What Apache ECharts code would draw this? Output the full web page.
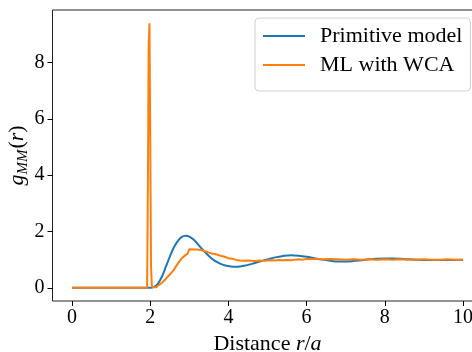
<!DOCTYPE html>
<html><head><meta charset="utf-8">
<script src="https://cdn.jsdelivr.net/npm/echarts@6/dist/echarts.min.js"></script>
<style>html,body{margin:0;padding:0;background:#fff}#c{width:472px;height:352px}</style>
</head><body><div id="c"></div>
<script>
// Primitive model
const rPrim = [0, 1.9, 2.0, 2.1, 2.2, 2.3, 2.4, 2.5, 2.6, 2.7, 2.8, 2.9, 3.0, 3.1, 3.2, 3.3, 3.4, 3.5, 3.6, 3.7, 3.8, 3.9, 4.0, 4.1, 4.2, 4.3, 4.4,
  4.6, 4.8, 5.0, 5.2, 5.4, 5.6, 5.8, 6.0, 6.2, 6.4, 6.6, 6.8, 7.0, 7.2, 7.4, 7.6, 7.8, 8.0, 8.2, 8.4, 8.6, 8.8, 9.0, 9.5, 10.0];
const gPrim = [0, 0, 0.0, 0.03, 0.15, 0.4, 0.75, 1.1, 1.42, 1.65, 1.8, 1.85, 1.82, 1.72, 1.58, 1.42, 1.27, 1.13, 1.01, 0.92, 0.85, 0.8, 0.77, 0.75, 0.75, 0.76, 0.78,
  0.85, 0.93, 1.01, 1.08, 1.13, 1.16, 1.14, 1.10, 1.05, 1.00, 0.96, 0.93, 0.93, 0.95, 0.98, 1.01, 1.03, 1.04, 1.04, 1.03, 1.01, 1.00, 0.99, 0.99, 1.0];
// ML with WCA
const rML = [0, 1.92, 1.94, 1.96, 1.98, 2.00, 2.02, 2.04, 2.06, 2.10, 2.15, 2.20, 2.30, 2.40, 2.50, 2.60, 2.70, 2.80, 2.90, 2.96, 3.00, 3.05,
  3.10, 3.20, 3.30, 3.40, 3.50, 3.60, 3.70, 3.80, 3.90,
  4.00, 4.10, 4.20, 4.30, 4.40, 4.50, 4.60, 4.70, 4.80, 4.90, 5.00, 5.10, 5.20, 5.30, 5.40, 5.50, 5.60, 5.70, 5.80, 5.90, 6.00,
  6.20, 6.40, 6.60, 6.80, 7.00, 7.20, 7.40, 7.60, 7.80, 8.00, 8.20, 8.40, 8.60, 8.80, 9.00, 9.20, 9.40, 9.60, 9.80, 10.0];
const gML = [0, 0, 3.5, 8.6, 9.4, 5.5, 0.8, 0.1, 0.02, 0.0, 0.02, 0.06, 0.18, 0.32, 0.47, 0.63, 0.85, 1.04, 1.16, 1.22, 1.37, 1.38,
  1.36, 1.36, 1.34, 1.30, 1.25, 1.21, 1.18, 1.14, 1.10,
  1.05, 1.03, 0.99, 0.97, 0.96, 0.97, 0.96, 0.95, 0.97, 0.96, 0.97, 0.98, 0.97, 0.99, 0.98, 0.99, 0.98, 1.00, 1.01, 1.00, 1.02,
  1.02, 1.01, 1.02, 1.01, 1.00, 1.01, 1.00, 1.01, 1.00, 1.01, 1.00, 1.01, 1.00, 1.00, 1.01, 1.00, 1.00, 1.01, 1.00, 1.00];
const xTicks = [0, 2, 4, 6, 8, 10];
const yTicks = [0, 2, 4, 6, 8];
const seriesNames = ['Primitive model', 'ML with WCA'];

const FONT = '"Liberation Serif", "DejaVu Serif", serif';
const pairs = (xs, ys) => xs.map((x, i) => [x, ys[i]]);
const chart = echarts.init(document.getElementById('c'), null, {renderer: 'canvas'});
chart.setOption({
  animation: false,
  backgroundColor: '#fff',
  grid: {left: 52.5, top: 10, width: 430, height: 291, show: true, borderColor: '#222', borderWidth: 1, backgroundColor: 'transparent', containLabel: false, outerBoundsMode: 'none'},
  xAxis: {
    type: 'value', min: -0.5, max: 10.5,
    name: 'Distance {i|r}/{i|a}', nameLocation: 'middle', nameGap: 27,
    nameTextStyle: {fontFamily: FONT, fontSize: 22, color: '#000', rich: {i: {fontFamily: FONT, fontSize: 22, fontStyle: 'italic', color: '#000'}}},
    axisLine: {show: false, onZero: false},
    axisTick: {show: true, length: 5, lineStyle: {color: '#000', width: 1}, customValues: xTicks},
    axisLabel: {fontFamily: FONT, fontSize: 20, color: '#000', margin: 7, customValues: xTicks},
    splitLine: {show: false}
  },
  yAxis: {
    type: 'value', min: -0.47, max: 9.87,
    name: '{i|g}{s|MM}{n|(}{i|r}{n|)}', nameLocation: 'middle', nameGap: 22, nameRotate: 90, nameMoveOverlap: false,
    nameTextStyle: {fontFamily: FONT, fontSize: 22, color: '#000', rich: {
      i: {fontFamily: FONT, fontSize: 22, fontStyle: 'italic', color: '#000', lineHeight: 26},
      n: {fontFamily: FONT, fontSize: 22, color: '#000', lineHeight: 26},
      s: {fontFamily: FONT, fontSize: 15, fontStyle: 'italic', color: '#000', lineHeight: 26, padding: [12, 1, 0, 0]}
    }},
    axisLine: {show: false, onZero: false},
    axisTick: {show: true, length: 5, lineStyle: {color: '#000', width: 1}, customValues: yTicks},
    axisLabel: {fontFamily: FONT, fontSize: 20, color: '#000', margin: 8, customValues: yTicks},
    splitLine: {show: false}
  },
  legend: {
    orient: 'vertical', left: 255, top: 18,
    backgroundColor: '#fff', borderColor: '#d0d0d0', borderWidth: 1, borderRadius: 4,
    padding: [7, 8, 15, 8], itemGap: 7, itemWidth: 42, itemHeight: 2, icon: 'rect',
    textStyle: {fontFamily: FONT, fontSize: 22, color: '#000', width: 143, height: 21, padding: [0, 0, 0, 10]},
    data: seriesNames
  },
  series: [
    {name: seriesNames[0], type: 'line', data: pairs(rPrim, gPrim), symbol: 'none', smooth: 0.3,
     lineStyle: {color: '#1f77b4', width: 2}, itemStyle: {color: '#1f77b4'}},
    {name: seriesNames[1], type: 'line', data: pairs(rML, gML), symbol: 'none',
     lineStyle: {color: '#ff7f0e', width: 2}, itemStyle: {color: '#ff7f0e'}}
  ]
});
</script></body></html>
